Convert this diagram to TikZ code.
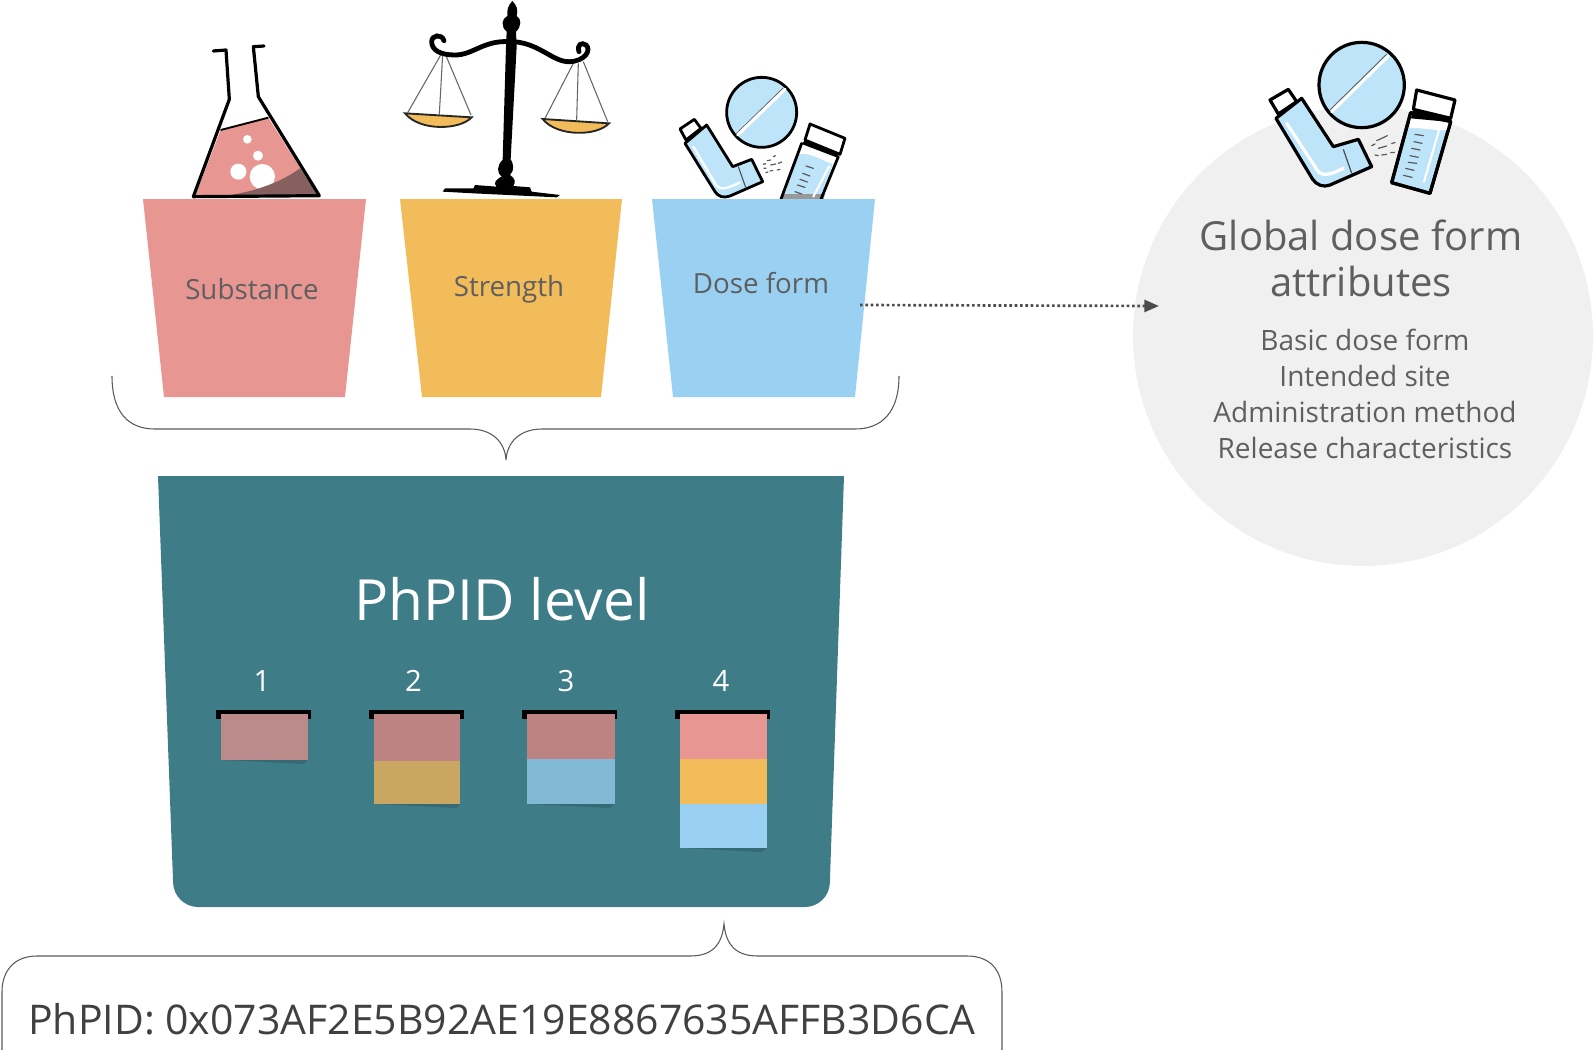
\documentclass[tikz,border=0pt]{standalone}
\usepackage{fontspec}
\setmainfont{Open Sans}
\usepackage{tikz}
\usetikzlibrary{arrows.meta}
\tikzset{every picture/.style={line width=0.75pt}}
\definecolor{cuppink}{HTML}{E89692}
\definecolor{cupyellow}{HTML}{F2BC5A}
\definecolor{cupblue}{HTML}{9AD1F3}
\definecolor{tealbox}{HTML}{3E7C87}
\definecolor{tealdark}{HTML}{356A74}
\definecolor{greytext}{HTML}{5F5F5F}
\definecolor{discgrey}{HTML}{F0F0F0}
\definecolor{iconblue}{HTML}{BDE4F9}
\definecolor{fadepinkone}{HTML}{BC8A8A}
\definecolor{fadepink}{HTML}{BC8382}
\definecolor{fadeyellow}{HTML}{C9A661}
\definecolor{fadeblue}{HTML}{82BAD6}
\definecolor{flaskdark}{HTML}{85605F}
\tikzset{
  cuplabel/.style={text=greytext,font=\fontsize{20.8}{24}\selectfont,inner sep=0.75pt},
  attrhead/.style={text=greytext,font=\fontsize{30}{36}\selectfont,inner sep=0.75pt},
  attrline/.style={text=greytext,font=\fontsize{21}{24}\selectfont,inner sep=0.75pt},
  levelnum/.style={text=white,font=\fontsize{22}{24}\selectfont,inner sep=0.75pt},
  icon/.style={draw=black,line width=2.4pt,line join=round,line cap=round},
  iconthin/.style={draw=black,line width=2.1pt,line join=round,line cap=round},
  shine/.style={draw=white,line width=2.4pt,line cap=round},
  tickline/.style={draw=black!65,line width=0.9pt,line cap=round},
  bracket/.style={draw=black!65,line width=0.8pt},
  hanger/.style={draw=black!60,line width=0.8pt},
}

\begin{document}
\begin{tikzpicture}[x=0.75pt,y=0.75pt,yscale=-1,xscale=1]
\useasboundingbox (0,0) rectangle (1593,1050);

% grey disc
\fill[discgrey] (1363,336) circle (230);

% flask
\begin{scope}[shift={(130,0)},scale=1/3]
\fill[cuppink] (272,390) -- (415,353) -- (565,590) -- (195,590) -- cycle;
\fill[white] (352,418) circle (13);
\fill[white] (384,467) circle (15);
\fill[white] (325,515) circle (24);
\fill[white] (397,530) circle (38);
\fill[flaskdark] (250,590) .. controls (350,585) and (450,550) .. (510,505) -- (565,590) -- cycle;
\draw[draw=black,line width=1.4pt] (272,390) -- (415,353);
\draw[icon] (250,153) -- (288,150) -- (298,298) -- (190,590) -- (568,587) -- (385,290) -- (370,140) -- (402,138);
\end{scope}

% scales
\begin{scope}[shift={(130,0)},scale=1/3]
\draw[hanger] (935,160) -- (833,338);
\draw[hanger] (938,165) -- (928,342);
\draw[hanger] (945,160) -- (1023,345);
\draw[hanger] (1330,190) -- (1245,355);
\draw[hanger] (1345,190) -- (1340,360);
\draw[hanger] (1360,185) -- (1433,365);
\draw[fill=cupyellow,draw=black!85,line width=1.4pt] (825,340) -- (1025,352) .. controls (990,390) and (870,395) .. (825,340) -- cycle;
\draw[fill=cupyellow,draw=black!85,line width=1.4pt] (1238,357) -- (1437,370) .. controls (1400,410) and (1280,410) .. (1238,357) -- cycle;
\fill[black] (1147,3) .. controls (1135,15) and (1130,30) .. (1132,48) .. controls (1115,55) and (1112,80) .. (1130,95) -- (1128,140) -- (1118,480) .. controls (1100,495) and (1100,520) .. (1115,530) .. controls (1095,540) and (1090,550) .. (1100,560) -- (1035,555) -- (1030,565) -- (945,565) -- (938,575) -- (1030,580) -- (1280,592) -- (1290,585) -- (1205,575) -- (1200,562) -- (1150,558) .. controls (1158,545) and (1155,535) .. (1140,525) .. controls (1155,510) and (1150,490) .. (1142,478) -- (1160,140) -- (1158,95) .. controls (1175,80) and (1175,55) .. (1160,48) .. controls (1165,30) and (1160,15) .. (1147,3) -- cycle;
\draw[line width=3.6pt,line cap=round] (1140,125) .. controls (1060,120) and (1030,165) .. (975,165) .. controls (930,165) and (905,150) .. (905,125) .. controls (905,105) and (935,100) .. (942,122);
\draw[line width=3.6pt,line cap=round] (1150,125) .. controls (1230,130) and (1270,188) .. (1320,185) .. controls (1365,183) and (1385,150) .. (1368,135) .. controls (1355,125) and (1340,135) .. (1347,155);
\end{scope}

% small dose form icons
\begin{scope}[shift={(650,60)},scale=1/3]
\draw[iconthin,fill=iconblue] (335,157) circle (105);
\draw[line width=0.8pt,black!60] (258,222) -- (400,84);
\draw[shine] (263,225) -- (405,88);
\draw[iconthin,fill=white] (90,207) -- (133,178) -- (153,205) -- (108,240) -- cycle;
\draw[iconthin,fill=iconblue] (105,250) -- (170,195) -- (248,320) -- (305,298) -- (338,365) -- (240,408) .. controls (220,415) and (205,410) .. (195,395) -- cycle;
\draw[line width=0.8pt,black!70] (265,320) -- (287,382);
\draw[draw=white,line width=1.8pt,line cap=round] (130,260) -- (195,370) .. controls (205,390) and (225,390) .. (268,368);
\draw[tickline] (340,313) -- (347,311) (352,302) -- (362,300) (370,290) -- (376,287) (342,325) -- (348,325) (362,315) -- (377,312) (385,310) -- (395,306) (348,338) -- (354,336) (360,333) -- (368,331) (382,330) -- (390,328);
\fill[iconblue] (445,283) .. controls (480,275) and (520,305) .. (548,312) -- (505,430) -- (395,430) -- cycle;
\fill[black!40] (400,402) -- (525,402) -- (520,420) -- (395,420) -- cycle;
\draw[iconthin] (455,250) -- (392,420) (565,290) -- (512,420);
\fill[black] (455,252) -- (466,240) -- (565,285) -- (562,293) -- cycle;
\draw[iconthin,fill=white] (480,192) -- (585,235) -- (570,283) -- (465,240) -- cycle;
\draw[tickline] (468,318) -- (490,325) (458,340) -- (480,348) (450,358) -- (472,366) (442,375) -- (465,382) (435,395) -- (455,402);
\draw[shine,line width=1.5pt] (538,318) -- (490,410);
\end{scope}

% large dose form icons
\begin{scope}[shift={(1240,20)},scale=1/3]
\draw[icon,fill=iconblue] (365,195) circle (128);
\draw[line width=0.8pt,black!60] (270,270) -- (440,103);
\draw[shine] (275,275) -- (445,108);
\draw[icon,fill=white] (90,240) -- (145,208) -- (170,245) -- (115,282) -- cycle;
\draw[icon,fill=iconblue] (108,295) -- (185,235) -- (280,380) -- (355,358) -- (395,440) -- (270,495) .. controls (250,503) and (230,495) .. (218,478) -- cycle;
\draw[line width=0.9pt,black!70] (310,388) -- (335,460);
\draw[shine] (140,310) -- (225,440) .. controls (240,470) and (260,470) .. (310,445);
\draw[tickline] (395,377) -- (405,372) (410,362) -- (442,347) (415,385) -- (440,378) (455,370) -- (465,368) (405,405) -- (415,407) (425,405) -- (440,403) (452,398) -- (463,397);
\draw[icon,fill=iconblue] (512,278) -- (632,305) -- (570,520) -- (455,488) -- cycle;
\fill[white] (507,325) .. controls (540,320) and (590,335) .. (622,330) -- (630,308) -- (514,282) -- cycle;
\draw[icon] (512,278) -- (632,305) -- (570,520) -- (455,488) -- cycle;
\fill[black] (512,295) -- (522,268) -- (632,295) -- (630,306) -- cycle;
\draw[icon,fill=white] (530,210) -- (645,240) -- (632,295) -- (520,268) -- cycle;
\draw[tickline] (525,343) -- (550,347) (522,365) -- (546,370) (515,385) -- (540,390) (510,407) -- (535,412) (505,427) -- (530,430) (497,445) -- (522,451) (490,466) -- (516,472);
\draw[shine,line width=1.6pt] (600,320) -- (552,485);
\end{scope}

% cups
\fill[cuppink] (143,199) -- (366,199) -- (345,397) -- (164,397) -- cycle;
\fill[cupyellow] (400,199) -- (622,199) -- (601,397) -- (422,397) -- cycle;
\fill[cupblue] (652,199) -- (875,199) -- (855,397) -- (673,397) -- cycle;
\node[cuplabel] (substance) at (252,289) {Substance};
\node[cuplabel] (strength) at (509,289) {Strength};
\node[cuplabel] (doseform) at (761,283) {Dose form};

% upper brace
\draw[bracket] (112,376) .. controls (112,412) and (128,429) .. (155,429) -- (470,429) .. controls (492,429) and (505,442) .. (506,460) .. controls (507,442) and (520,429) .. (542,429) -- (855,429) .. controls (882,429) and (899,412) .. (899,376);

% teal box
\fill[tealbox] (158,476) -- (844,476) [rounded corners=18pt] -- (829,907) -- (174,907) [sharp corners] -- cycle;
\node[text=white,font=\fontsize{42.6}{48}\selectfont,inner sep=0.75pt] (phpidlevel) at (502,599) {PhPID level};
\node[levelnum] (levelone) at (262,681) {1};
\node[levelnum] (leveltwo) at (413.5,681) {2};
\node[levelnum] (levelthree) at (566,681) {3};
\node[levelnum] (levelfour) at (721,681) {4};

% level 1
\fill[black] (216,710) rectangle (311,719);
\fill[tealdark] (224,760) -- (307,760) -- (304,764) -- cycle;
\fill[fadepinkone] (221,714) rectangle (307.5,760);
% level 2
\fill[black] (369,710) rectangle (464,719);
\fill[tealdark] (377,804) -- (460,804) -- (457,808) -- cycle;
\fill[fadepink] (374,714) rectangle (460,761);
\fill[fadeyellow] (374,761) rectangle (460,804);
% level 3
\fill[black] (521.5,710) rectangle (616.5,719);
\fill[tealdark] (530,804) -- (615,804) -- (610,808) -- cycle;
\fill[fadepink] (527,714) rectangle (615,759);
\fill[fadeblue] (527,759) rectangle (615,804);
% level 4
\fill[black] (674.5,710) rectangle (769.5,719);
\fill[tealdark] (683,848) -- (767,848) -- (762,852) -- cycle;
\fill[cuppink] (680,714) rectangle (767,759);
\fill[cupyellow] (680,759) rectangle (767,804);
\fill[cupblue] (680,804) rectangle (767,848);

% lower brace
\draw[bracket] (2,1050) -- (2,992) .. controls (2,970) and (15,956) .. (37,956) -- (690,956) .. controls (712,956) and (722,945) .. (724,924) .. controls (726,945) and (736,956) .. (758,956) -- (967,956) .. controls (990,956) and (1002,970) .. (1002,992) -- (1002,1050);
\node[text=black!75,font=\fontsize{30.7}{36}\selectfont,inner sep=0.75pt] (phpidvalue) at (502,1019) {PhPID: 0x073AF2E5B92AE19E8867635AFFB3D6CA};

% attributes
\node[attrhead] (attrtitle) at (1361,235) {Global dose form};
\node[attrhead] (attrtitletwo) at (1361,281) {attributes};
\node[attrline] (attrbasic) at (1365,340) {Basic dose form};
\node[attrline] (attrsite) at (1365,376) {Intended site};
\node[attrline] (attrmethod) at (1365,411.5) {Administration method};
\node[attrline] (attrrelease) at (1365,448) {Release characteristics};

% dotted arrow
\coordinate (dotstart) at (860,305);
\coordinate (dotend) at (1159,306);
\draw[draw=black!70,line width=2pt,dash pattern=on 2pt off 2pt,-{Stealth[length=11pt,width=9pt,inset=0pt]}] (dotstart) -- (dotend);
\end{tikzpicture}
\end{document}
